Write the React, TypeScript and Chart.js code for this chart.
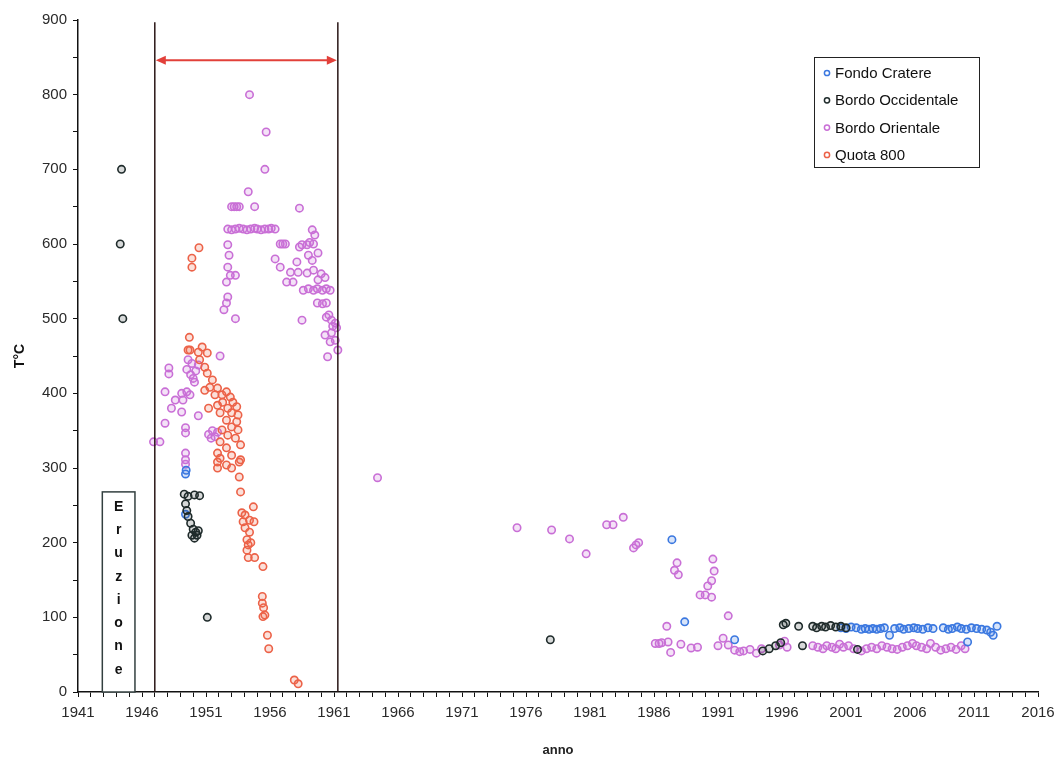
import React, { useEffect, useRef } from "react";
import { Chart, registerables } from "chart.js";

Chart.register(...registerables);

// ---------- DATA ----------
const seriesNames = ["Fondo Cratere", "Bordo Occidentale", "Bordo Orientale", "Quota 800"];

const fondoYears = [1949.4, 1949.45, 1949.4, 1987.4, 1988.4, 1992.3,
  2000.6, 2001.0, 2001.4, 2001.8, 2002.2, 2002.5, 2002.8, 2003.1, 2003.4, 2003.7, 2004.0, 2004.4, 2004.8,
  2005.2, 2005.5, 2005.9, 2006.3, 2006.6, 2007.0, 2007.4, 2007.8, 2008.6, 2009.0, 2009.3, 2009.7, 2010.0,
  2010.4, 2010.5, 2010.8, 2011.2, 2011.6, 2012.0, 2012.3, 2012.5, 2012.8];
const fondoTemps = [292, 297, 238, 204, 94, 70,
  86, 85, 87, 86, 84, 85, 84, 85, 84, 85, 86, 76, 85,
  86, 84, 85, 86, 85, 84, 86, 85, 86, 84, 85, 87, 85,
  84, 67, 86, 85, 84, 83, 80, 76, 88];

const occYears = [1944.4, 1944.3, 1944.5,
  1949.3, 1949.6, 1950.1, 1950.5, 1949.4, 1949.5, 1949.6, 1949.8, 1950.0, 1950.2, 1949.9, 1950.1, 1950.3, 1950.4, 1951.1,
  1977.9,
  1994.5, 1995.0, 1995.5, 1995.9, 1996.1, 1996.3, 1997.3, 1997.6, 1998.4, 1998.7, 1999.1, 1999.4, 1999.8, 2000.2, 2000.6, 2001.0, 2001.9];
const occTemps = [700, 600, 500,
  265, 262, 264, 263, 252, 243, 235, 226, 218, 214, 210, 206, 210, 216, 100,
  70,
  55, 58, 62, 66, 90, 92, 88, 62, 88, 86, 88, 87, 89, 87, 88, 86, 57];

const oriYears = [
  1954.4, 1955.7, 1955.6, 1954.3,
  1953.0, 1953.2, 1953.4, 1953.6, 1954.8, 1958.3,
  1952.7, 1953.0, 1953.3, 1953.6, 1953.9, 1954.2, 1954.5, 1954.8, 1955.0, 1955.3, 1955.6, 1955.9, 1956.1, 1956.4,
  1959.3, 1959.5,
  1952.7, 1956.8, 1957.0, 1957.2, 1958.3, 1958.5, 1958.9, 1959.1, 1959.4, 1959.75,
  1952.8, 1956.4, 1958.1, 1959.3, 1959.0,
  1956.8, 1952.7, 1952.9, 1953.3, 1952.6,
  1957.6, 1958.2, 1958.9, 1959.4, 1959.75, 1957.3, 1957.8, 1960.0, 1960.3,
  1958.6, 1959.0, 1959.4, 1959.7, 1960.1, 1960.4, 1960.7,
  1952.7, 1952.6, 1952.4, 1959.7, 1960.1, 1960.4,
  1953.3, 1958.5, 1960.4, 1960.8, 1961.1, 1960.6, 1961.2, 1960.9,
  1960.3, 1960.8, 1961.1, 1960.5, 1961.3, 1960.7,
  1952.1, 1949.9, 1949.6, 1950.2, 1949.8, 1950.4, 1950.0, 1949.5, 1950.1,
  1948.1, 1948.1, 1947.8, 1948.6, 1948.3, 1949.1, 1949.5, 1949.75, 1949.2, 1949.1, 1950.4, 1947.8, 1947.4, 1946.9,
  1949.4, 1949.4, 1951.2, 1951.5, 1951.7, 1951.9, 1951.4, 1949.4, 1949.4, 1949.4,
  1964.4,
  1975.3, 1978.0, 1979.4, 1980.7, 1982.3, 1982.8, 1983.6, 1984.4, 1984.6, 1984.8,
  1987.8, 1987.6, 1987.9, 1990.6, 1990.7, 1990.5, 1990.2, 1989.6, 1990.0, 1990.5, 1991.8, 1987.0,
  1986.1, 1986.4, 1986.6, 1987.1, 1987.3, 1988.1, 1988.9, 1989.4, 1991.0, 1991.4, 1991.8, 1992.3, 1992.7,
  1993.0, 1993.5, 1994.0, 1994.4, 1995.8, 1996.2, 1996.4,
  1998.4, 1998.8, 1999.2, 1999.5, 1999.9, 2000.2, 2000.5, 2000.8, 2001.2, 2001.6, 2002.2, 2002.6, 2003.0,
  2003.4, 2003.8, 2004.2, 2004.6, 2005.0, 2005.4, 2005.8, 2006.2, 2006.5, 2006.9, 2007.3, 2007.6, 2008.0,
  2008.4, 2008.8, 2009.2, 2009.6, 2010.0, 2010.3
];
const oriTemps = [
  800, 750, 700, 670,
  650, 650, 650, 650, 650, 648,
  620, 619, 620, 621, 620, 619, 620, 621, 620, 619, 620, 620, 621, 620,
  619, 612,
  599, 600, 600, 600, 596, 599, 599, 602, 600, 588,
  585, 580, 576, 578, 585,
  569, 569, 558, 558, 549,
  562, 562, 561, 565, 552, 549, 549, 560, 555,
  538, 540, 538, 540, 538, 540, 538,
  529, 521, 512, 521, 520, 521,
  500, 498, 502, 498, 494, 505, 488, 490,
  478, 481, 471, 449, 458, 469,
  450, 440, 445, 430, 425, 438, 420, 432, 415,
  434, 426, 402, 391, 380, 400, 402, 398, 391, 375, 370, 360, 335, 335,
  354, 347, 345, 350, 342, 348, 340, 320, 311, 305,
  287,
  220, 217, 205, 185, 224, 224, 234, 193, 197, 200,
  173, 163, 157, 178, 162, 149, 142, 130, 130, 127, 102, 88,
  65, 65, 66, 67, 53, 64, 59, 60, 62, 72, 63, 56, 54,
  55, 57, 52, 58, 63, 68, 60,
  62, 60, 58, 62, 60, 58, 64, 60, 62, 58, 55, 58, 60,
  58, 62, 60, 58, 57, 60, 62, 65, 62, 60, 58, 65, 60,
  56, 58, 60, 57, 62, 58
];

const quotaYears = [
  1950.45, 1949.9, 1949.9,
  1949.7, 1949.6, 1950.7, 1951.1, 1949.75, 1950.4,
  1950.5, 1950.9, 1951.1, 1951.5, 1951.3, 1951.9, 1950.9, 1951.7, 1952.25, 1952.6, 1952.9, 1952.3, 1953.1,
  1953.4, 1952.7, 1951.9, 1951.2, 1953.0, 1953.5, 1952.1, 1952.6, 1953.4, 1953.0, 1953.5, 1952.25, 1952.7,
  1953.3, 1953.7, 1952.1, 1952.6, 1951.9, 1953.0, 1952.1, 1953.7, 1952.6,
  1951.9, 1951.9, 1953.0, 1953.6, 1953.6, 1953.7, 1954.7, 1953.8, 1954.05, 1953.9, 1954.4, 1954.75,
  1954.05, 1954.4, 1954.2, 1954.3, 1954.5, 1954.2, 1954.3, 1954.8, 1955.45,
  1955.4, 1955.4, 1955.5, 1955.45, 1955.6, 1955.8, 1955.9, 1957.9, 1958.2
];
const quotaTemps = [
  595, 581, 569,
  475, 458, 462, 454, 458, 455,
  445, 435, 427, 418, 408, 407, 404, 398, 398, 402, 395, 388, 388,
  382, 380, 384, 380, 374, 371, 374, 364, 362, 355, 351, 351, 344,
  340, 331, 335, 327, 320, 317, 313, 311, 304,
  308, 300, 300, 308, 288, 268, 248, 240, 237, 228, 230, 228,
  220, 214, 204, 197, 200, 190, 180, 180, 168,
  128, 119, 113, 101, 103, 76, 58, 16, 11
];

const seriesColors = ["#3b78e0", "#1f2b2b", "#c96fd6", "#ec6248"];
const seriesFills = ["rgba(59,120,224,0.2)", "rgba(31,43,43,0.18)", "rgba(201,111,214,0.2)", "rgba(236,98,72,0.2)"];

// annotation values
const bracketStartYear = 1947.0;
const bracketEndYear = 1961.3;
const arrowTemp = 846;
const eruzioneLetters = ["E", "r", "u", "z", "i", "o", "n", "e"];
const eruzioneStart = 1942.9;
const eruzioneEnd = 1945.45;
const eruzioneTop = 268;

const X_MIN = 1941;
const X_MAX = 2016;
const Y_MIN = 0;
const Y_MAX = 900;

function pts(xs: number[], ys: number[]) {
  return xs.map((x, i) => ({ x, y: ys[i] }));
}

const annotationPlugin = {
  id: "annots",
  afterDatasetsDraw(chart: any) {
    const { ctx, scales } = chart;
    const xs = scales.x;
    const ys = scales.y;
    ctx.save();
    const xl = xs.getPixelForValue(bracketStartYear);
    const xr = xs.getPixelForValue(bracketEndYear);
    const yTop = ys.getPixelForValue(897);
    const yBot = ys.getPixelForValue(0);
    ctx.strokeStyle = "#2a1616";
    ctx.lineWidth = 1.5;
    ctx.beginPath();
    ctx.moveTo(xl, yTop);
    ctx.lineTo(xl, yBot);
    ctx.moveTo(xr, yTop);
    ctx.lineTo(xr, yBot);
    ctx.stroke();
    const ya = ys.getPixelForValue(arrowTemp);
    ctx.strokeStyle = "#e2403a";
    ctx.fillStyle = "#e2403a";
    ctx.lineWidth = 2;
    ctx.beginPath();
    ctx.moveTo(xl + 4, ya);
    ctx.lineTo(xr - 4, ya);
    ctx.stroke();
    ctx.beginPath();
    ctx.moveTo(xl + 1, ya);
    ctx.lineTo(xl + 11, ya - 4.5);
    ctx.lineTo(xl + 11, ya + 4.5);
    ctx.closePath();
    ctx.fill();
    ctx.beginPath();
    ctx.moveTo(xr - 1, ya);
    ctx.lineTo(xr - 11, ya - 4.5);
    ctx.lineTo(xr - 11, ya + 4.5);
    ctx.closePath();
    ctx.fill();
    const bx1 = xs.getPixelForValue(eruzioneStart);
    const bx2 = xs.getPixelForValue(eruzioneEnd);
    const by1 = ys.getPixelForValue(eruzioneTop);
    const by2 = ys.getPixelForValue(0);
    ctx.fillStyle = "#ffffff";
    ctx.fillRect(bx1, by1, bx2 - bx1, by2 - by1);
    ctx.strokeStyle = "#334040";
    ctx.lineWidth = 1.5;
    ctx.strokeRect(bx1, by1, bx2 - bx1, by2 - by1);
    ctx.fillStyle = "#111";
    ctx.font = "bold 14px Arial, 'Liberation Sans', sans-serif";
    ctx.textAlign = "center";
    ctx.textBaseline = "middle";
    const cx = (bx1 + bx2) / 2;
    const step = (by2 - by1 - 14) / eruzioneLetters.length;
    eruzioneLetters.forEach((l, i) => {
      ctx.fillText(l, cx, by1 + 15 + step * i);
    });
    ctx.restore();
  },
  afterDraw(chart: any) {
    const { ctx } = chart;
    ctx.save();
    const lx = 814, ly = 57, lw = 165, lh = 110;
    ctx.fillStyle = "#fff";
    ctx.fillRect(lx, ly, lw, lh);
    ctx.strokeStyle = "#222";
    ctx.lineWidth = 1;
    ctx.strokeRect(lx + 0.5, ly + 0.5, lw, lh);
    ctx.font = "15px Arial, 'Liberation Sans', sans-serif";
    ctx.textAlign = "left";
    ctx.textBaseline = "middle";
    chart.data.datasets.forEach((ds: any, i: number) => {
      const yy = ly + 16 + i * 27.3;
      ctx.beginPath();
      ctx.arc(lx + 13, yy, 2.6, 0, Math.PI * 2);
      ctx.strokeStyle = ds.borderColor;
      ctx.lineWidth = 1.5;
      ctx.stroke();
      ctx.fillStyle = "#111";
      ctx.fillText(ds.label, lx + 21, yy + 1);
    });
    ctx.restore();
  },
};

export default function App() {
  const ref = useRef<HTMLCanvasElement>(null);
  useEffect(() => {
    if (!ref.current) return;
    const data = [
      pts(fondoYears, fondoTemps),
      pts(occYears, occTemps),
      pts(oriYears, oriTemps),
      pts(quotaYears, quotaTemps),
    ];
    const chart = new Chart(ref.current, {
      type: "scatter",
      data: {
        datasets: seriesNames.map((name, i) => ({
          label: name,
          data: data[i],
          borderColor: seriesColors[i],
          backgroundColor: seriesFills[i],
          pointRadius: 3.7,
          pointBorderWidth: 1.6,
          pointStyle: "circle",
          order: [1, 0, 3, 2][i],
        })),
      },
      options: {
        responsive: false,
        animation: false,
        events: [],
        layout: { padding: { left: 0, top: 20, right: 24, bottom: 0 } },
        plugins: { legend: { display: false }, tooltip: { enabled: false } },
        scales: {
          x: {
            type: "linear",
            min: X_MIN,
            max: X_MAX,
            afterFit: (s: any) => { s.height = 73; },
            afterBuildTicks: (s: any) => {
              const t = [];
              for (let v = X_MIN; v <= X_MAX; v++) t.push({ value: v });
              s.ticks = t;
            },
            ticks: {
              autoSkip: false,
              maxRotation: 0,
              padding: 7,
              color: "#2a2a2a",
              font: { family: "Arial, 'Liberation Sans', sans-serif", size: 15 },
              callback: (v: any) => ((v - X_MIN) % 5 === 0 ? String(v) : ""),
            },
            grid: { drawOnChartArea: false, drawTicks: true, tickLength: 5, color: "#111", lineWidth: 1 },
            border: { display: true, color: "#111", width: 1.5 },
            title: {
              display: true,
              text: "anno",
              color: "#222",
              font: { family: "Arial, 'Liberation Sans', sans-serif", size: 13, weight: "bold" },
              padding: { top: 0, bottom: 7 },
            },
          },
          y: {
            type: "linear",
            min: Y_MIN,
            max: Y_MAX,
            afterFit: (s: any) => { s.width = 78; },
            ticks: {
              stepSize: 50,
              autoSkip: false,
              padding: 6,
              color: "#2a2a2a",
              font: { family: "Arial, 'Liberation Sans', sans-serif", size: 15 },
              callback: (v: any) => (v % 100 === 0 ? String(v) : ""),
            },
            grid: { drawOnChartArea: false, drawTicks: true, tickLength: 5, color: "#111", lineWidth: 1 },
            border: { display: true, color: "#111", width: 1.5 },
            title: {
              display: true,
              text: "T°C",
              color: "#111",
              font: { family: "Arial, 'Liberation Sans', sans-serif", size: 14, weight: "bold" },
              padding: { top: 12, bottom: 0 },
            },
          },
        },
      },
      plugins: [annotationPlugin],
    });
    return () => chart.destroy();
  }, []);
  return (
    <div style={{ position: "absolute", left: 0, top: 0, width: 1062, height: 765, background: "#fff" }}>
      <canvas ref={ref} width={1062} height={765} />
    </div>
  );
}
